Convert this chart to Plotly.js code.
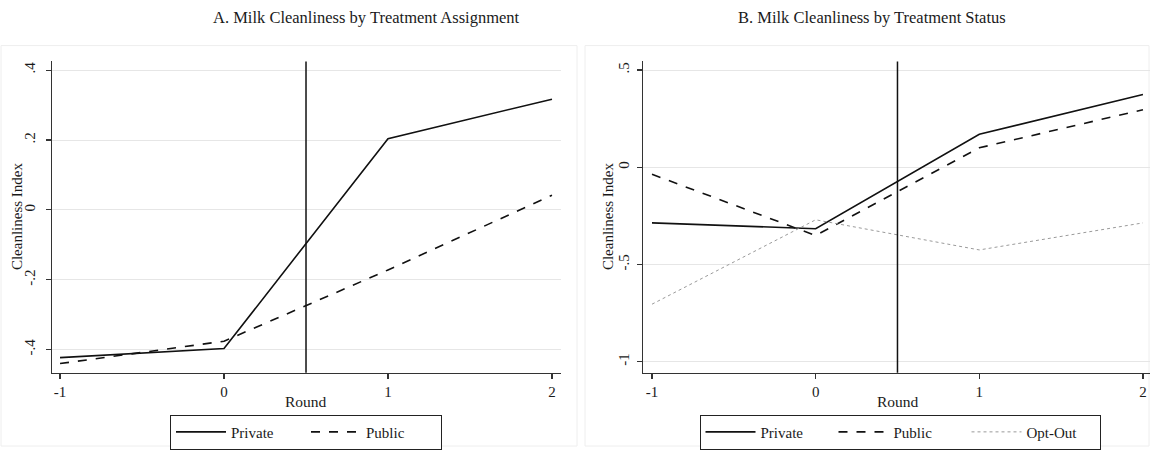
<!DOCTYPE html>
<html>
<head>
<meta charset="utf-8">
<script src="https://cdn.plot.ly/plotly-3.0.1.min.js"></script>
<style>
html, body { margin: 0; padding: 0; background: #fff; }
#chart { width: 1150px; height: 450px; }
</style>
</head>
<body>
<div id="chart"></div>
<script>
// ---- Data ----
const rounds = [-1, 0, 1, 2];
const roundTickText = ['-1', '0', '1', '2'];

// Panel A: by treatment assignment
const aPrivate = [-0.423, -0.397, 0.204, 0.317];
const aPublic  = [-0.440, -0.376, -0.172, 0.042];

// Panel B: by treatment status
const bPrivate = [-0.286, -0.316, 0.170, 0.374];
const bPublic  = [-0.036, -0.351, 0.100, 0.296];
const bOptOut  = [-0.704, -0.270, -0.425, -0.286];

const aTickVals = [-0.4, -0.2, 0, 0.2, 0.4];
const aTickText = ['-.4', '-.2', '0', '.2', '.4'];
const bTickVals = [-1, -0.5, 0, 0.5];
const bTickText = ['-1', '-.5', '0', '.5'];

const treatmentStart = 0.5;

const titleA = 'A. Milk Cleanliness by Treatment Assignment';
const titleB = 'B. Milk Cleanliness by Treatment Status';
const xTitle = 'Round';
const yTitle = 'Cleanliness Index';

// ---- Layout helpers ----
const W = 1150, H = 450;
const px = v => v / W;
const py = v => 1 - v / H;
const FONT = 'Liberation Serif, Times New Roman, serif';
const TXT = '#1a1a1a';

const traces = [
  { x: rounds, y: aPrivate, name: 'Private', mode: 'lines', xaxis: 'x', yaxis: 'y',
    line: { color: '#111', width: 1.6, dash: 'solid' }, legend: 'legend' },
  { x: rounds, y: aPublic, name: 'Public', mode: 'lines', xaxis: 'x', yaxis: 'y',
    line: { color: '#111', width: 1.6, dash: 'dash' }, legend: 'legend' },
  { x: rounds, y: bPrivate, name: 'Private', mode: 'lines', xaxis: 'x2', yaxis: 'y2',
    line: { color: '#111', width: 1.6, dash: 'solid' }, legend: 'legend2' },
  { x: rounds, y: bPublic, name: 'Public', mode: 'lines', xaxis: 'x2', yaxis: 'y2',
    line: { color: '#111', width: 1.6, dash: 'dash' }, legend: 'legend2' },
  { x: rounds, y: bOptOut, name: 'Opt-Out', mode: 'lines', xaxis: 'x2', yaxis: 'y2',
    line: { color: '#9a9a9a', width: 1, dash: 'dot' }, legend: 'legend2' }
];

const xCommon = {
  tickvals: rounds, ticktext: roundTickText,
  showgrid: false, zeroline: false,
  showline: true, linecolor: '#333', linewidth: 1.3,
  ticks: 'outside', ticklen: 5, tickwidth: 1.2, tickcolor: '#333',
  tickfont: { family: FONT, size: 15, color: TXT }
};
const yCommon = {
  showgrid: true, gridcolor: '#e6e6e6', gridwidth: 1,
  zeroline: false,
  showline: true, linecolor: '#333', linewidth: 1.3,
  ticks: 'outside', ticklen: 5, tickwidth: 1.2, tickcolor: '#333',
  tickangle: -90,
  tickfont: { family: FONT, size: 15, color: TXT },
  domain: [py(376), py(62)]
};

const legendCommon = {
  orientation: 'h', y: py(436), yanchor: 'middle',
  bordercolor: '#222', borderwidth: 1, bgcolor: '#fff',
  itemwidth: 50,
  font: { family: FONT, size: 15, color: TXT }
};

const layout = {
  width: W, height: H,
  margin: { l: 0, r: 0, t: 0, b: 0 },
  paper_bgcolor: '#fff', plot_bgcolor: '#fff',
  font: { family: FONT, color: TXT, size: 15 },
  showlegend: true,
  xaxis: Object.assign({}, xCommon, {
    domain: [px(52), px(561)], range: [-1.049, 2.055], anchor: 'y'
  }),
  yaxis: Object.assign({}, yCommon, {
    anchor: 'x', range: [-0.466, 0.425], tickvals: aTickVals, ticktext: aTickText,
    ticklabelstandoff: 5
  }),
  xaxis2: Object.assign({}, xCommon, {
    domain: [px(643), px(1150)], range: [-1.055, 2.043], anchor: 'y2'
  }),
  yaxis2: Object.assign({}, yCommon, {
    anchor: 'x2', range: [-1.056, 0.544], tickvals: bTickVals, ticktext: bTickText,
    ticklabelstandoff: 2
  }),
  legend: Object.assign({}, legendCommon, { x: px(306), xanchor: 'center', entrywidth: 70 }),
  legend2: Object.assign({}, legendCommon, { x: px(900), xanchor: 'center', entrywidth: 68 }),
  shapes: [
    { type: 'rect', xref: 'paper', yref: 'paper', x0: px(1), x1: px(577), y0: 0, y1: py(46),
      line: { color: '#eeeeee', width: 1 }, layer: 'below' },
    { type: 'rect', xref: 'paper', yref: 'paper', x0: px(585), x1: px(1149), y0: 0, y1: py(46),
      line: { color: '#eeeeee', width: 1 }, layer: 'below' },
    { type: 'line', xref: 'x', yref: 'y domain', x0: treatmentStart, x1: treatmentStart, y0: 0, y1: 1,
      line: { color: '#111', width: 1.5 } },
    { type: 'line', xref: 'x2', yref: 'y2 domain', x0: treatmentStart, x1: treatmentStart, y0: 0, y1: 1,
      line: { color: '#111', width: 1.5 } }
  ],
  annotations: [
    { text: titleA, xref: 'paper', yref: 'paper', x: px(366), y: py(18), showarrow: false,
      xanchor: 'center', yanchor: 'middle', font: { family: FONT, size: 16.5, color: TXT } },
    { text: titleB, xref: 'paper', yref: 'paper', x: px(872), y: py(18), showarrow: false,
      xanchor: 'center', yanchor: 'middle', font: { family: FONT, size: 16.5, color: TXT } },
    { text: xTitle, xref: 'paper', yref: 'paper', x: px(306), y: py(405), showarrow: false,
      xanchor: 'center', yanchor: 'middle', font: { family: FONT, size: 15.5, color: TXT } },
    { text: xTitle, xref: 'paper', yref: 'paper', x: px(898), y: py(405), showarrow: false,
      xanchor: 'center', yanchor: 'middle', font: { family: FONT, size: 15.5, color: TXT } },
    { text: yTitle, xref: 'paper', yref: 'paper', x: px(17), y: py(218), showarrow: false,
      textangle: -90, xanchor: 'center', yanchor: 'middle', font: { family: FONT, size: 15, color: TXT } },
    { text: yTitle, xref: 'paper', yref: 'paper', x: px(608), y: py(218), showarrow: false,
      textangle: -90, xanchor: 'center', yanchor: 'middle', font: { family: FONT, size: 15, color: TXT } }
  ]
};

Plotly.newPlot('chart', traces, layout, { staticPlot: true, displayModeBar: false });
</script>
</body>
</html>
